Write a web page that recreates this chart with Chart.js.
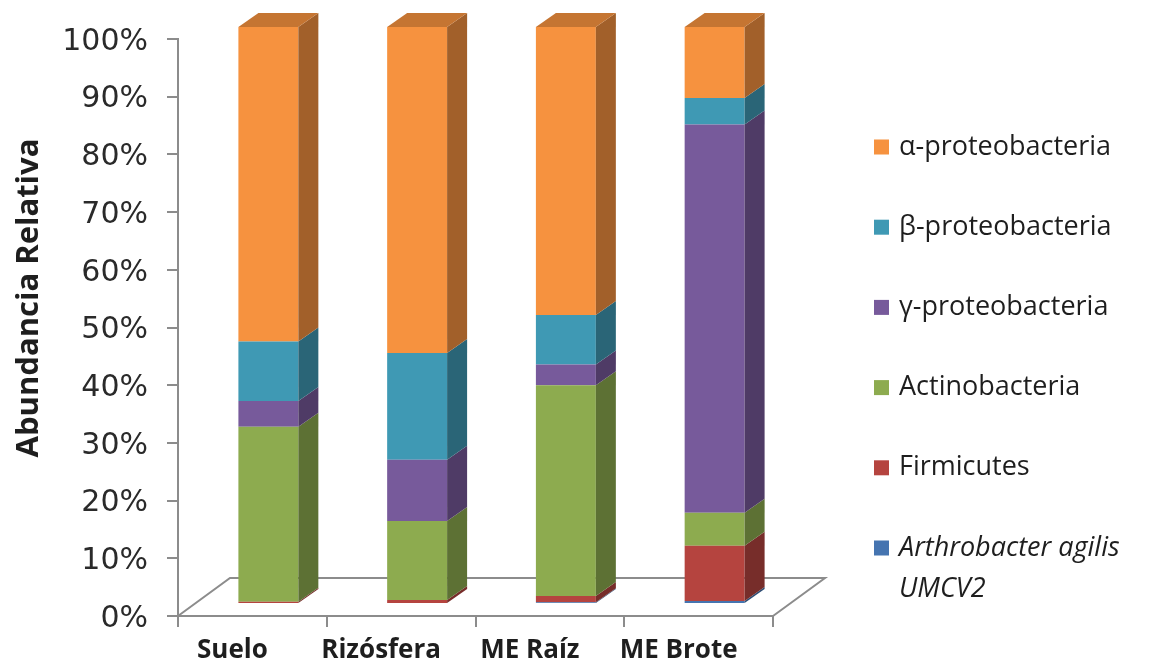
<!DOCTYPE html>
<html>
<head>
<meta charset="utf-8">
<script src="https://cdn.jsdelivr.net/npm/chart.js@4.4.1/dist/chart.umd.min.js"></script>
<style>
  html, body { margin: 0; padding: 0; background: #ffffff; }
  #wrap { width: 1150px; height: 670px; position: relative; }
</style>
</head>
<body>
<div id="wrap"><canvas id="chart"></canvas></div>
<script>
// Sample groups along the x axis
const categories = ['Suelo', 'Rizósfera', 'ME Raíz', 'ME Brote'];

// Relative abundance (%) per group, stacked from the floor upwards
const arthrobacter   = [0.0, 0.0, 0.3, 0.5];
const firmicutes     = [0.4, 0.7, 1.1, 9.6];
const actinobacteria = [30.3, 13.7, 36.5, 5.7];
const gammaProteo    = [4.5, 10.6, 3.6, 67.3];
const betaProteo     = [10.3, 18.5, 8.6, 4.6];
const alphaProteo    = [54.5, 56.5, 49.9, 12.3];

// Series names, in stacking order (bottom first)
const seriesNames = ['Arthrobacter agilis UMCV2', 'Firmicutes', 'Actinobacteria',
                     'γ-proteobacteria', 'β-proteobacteria', 'α-proteobacteria'];

// Value axis ticks (percent)
const yTicks = [0, 10, 20, 30, 40, 50, 60, 70, 80, 90, 100];
const yTitle = 'Abundancia Relativa';

const seriesValues = [arthrobacter, firmicutes, actinobacteria, gammaProteo, betaProteo, alphaProteo];
const seriesColors = ['#4574b0', '#b5443f', '#8dab4f', '#775a9b', '#3f99b4', '#f6923f'];

// Pseudo-3D geometry: floor depth, column depth
const FLOOR_DX = 52, FLOOR_DY = 38;
const BAR_DX = 20, BAR_DY = 14;
const OFF_DX = (FLOOR_DX - BAR_DX) / 2, OFF_DY = (FLOOR_DY - BAR_DY) / 2;
const AXIS_GREY = '#8c8c8c';
const TEXT = '#1e1e1e';

function shade(hex, f) {
  const n = parseInt(hex.slice(1), 16);
  const r = Math.round(((n >> 16) & 255) * f);
  const g = Math.round(((n >> 8) & 255) * f);
  const b = Math.round((n & 255) * f);
  return `rgb(${r},${g},${b})`;
}

// Draws the floor, the side/top faces of the columns and shifts the fronts back into depth
const columns3d = {
  id: 'columns3d',
  beforeDatasetsDraw(chart) {
    const { ctx, chartArea: a } = chart;
    ctx.save();
    ctx.strokeStyle = AXIS_GREY;
    ctx.lineWidth = 2;
    ctx.beginPath();
    ctx.moveTo(a.left, a.bottom);
    ctx.lineTo(a.left + FLOOR_DX, a.bottom - FLOOR_DY);
    ctx.lineTo(a.right + FLOOR_DX, a.bottom - FLOOR_DY);
    ctx.lineTo(a.right, a.bottom);
    ctx.stroke();
    ctx.restore();
    ctx.save();
    ctx.translate(OFF_DX, -OFF_DY);
  },
  afterDatasetsDraw(chart) {
    const { ctx } = chart;
    const n = chart.data.labels.length;
    for (let i = 0; i < n; i++) {
      let topBar = null, topColor = null;
      chart.data.datasets.forEach((ds, di) => {
        const meta = chart.getDatasetMeta(di);
        const bar = meta.data[i];
        if (!bar || ds.data[i] <= 0) return;
        const { x, y, base, width } = bar.getProps(['x', 'y', 'base', 'width'], true);
        const r = x + width / 2;
        ctx.fillStyle = shade(ds.backgroundColor, 0.66);
        ctx.beginPath();
        ctx.moveTo(r, y);
        ctx.lineTo(r + BAR_DX, y - BAR_DY);
        ctx.lineTo(r + BAR_DX, base - BAR_DY);
        ctx.lineTo(r, base);
        ctx.closePath();
        ctx.fill();
        topBar = { x, y, width };
        topColor = ds.backgroundColor;
      });
      if (topBar) {
        const l = topBar.x - topBar.width / 2, r = topBar.x + topBar.width / 2;
        ctx.fillStyle = shade(topColor, 0.8);
        ctx.beginPath();
        ctx.moveTo(l, topBar.y);
        ctx.lineTo(r, topBar.y);
        ctx.lineTo(r + BAR_DX, topBar.y - BAR_DY);
        ctx.lineTo(l + BAR_DX, topBar.y - BAR_DY);
        ctx.closePath();
        ctx.fill();
      }
    }
    ctx.restore();
  }
};

// Rotated value-axis title, centred a little above the plot middle
const axisTitle = {
  id: 'axisTitle',
  afterDraw(chart) {
    const { ctx } = chart;
    ctx.save();
    ctx.translate(29, 298);
    ctx.rotate(-Math.PI / 2);
    ctx.font = 'bold 31px "Open Sans", sans-serif';
    ctx.fillStyle = TEXT;
    ctx.textAlign = 'center';
    ctx.textBaseline = 'middle';
    ctx.fillText(yTitle, 0, 0);
    ctx.restore();
  }
};

// Legend at the right, top entry = last series
const sideLegend = {
  id: 'sideLegend',
  afterDraw(chart) {
    const { ctx } = chart;
    const x0 = 874, box = 15, textX = 899, y0 = 147, step = 80.2;
    ctx.save();
    ctx.textBaseline = 'middle';
    ctx.textAlign = 'left';
    const ds = chart.data.datasets.slice().reverse();
    ds.forEach((d, k) => {
      const cy = y0 + k * step;
      ctx.fillStyle = d.backgroundColor;
      ctx.fillRect(x0, cy - box / 2, box, box);
      ctx.fillStyle = TEXT;
      if (d.label.startsWith('Arthrobacter')) {
        ctx.font = 'italic 27px "Open Sans", sans-serif';
        ctx.fillText('Arthrobacter agilis', textX, cy);
        ctx.fillText('UMCV2', textX, cy + 41);
      } else {
        ctx.font = '27px "Open Sans", sans-serif';
        ctx.fillText(d.label, textX, cy);
      }
    });
    ctx.restore();
  }
};

const datasets = seriesNames.map((name, i) => ({
  label: name,
  data: seriesValues[i],
  backgroundColor: seriesColors[i],
  borderWidth: 0,
  clip: false,
  barPercentage: 0.806,
  categoryPercentage: 0.5
}));

new Chart(document.getElementById('chart'), {
  type: 'bar',
  data: { labels: categories, datasets },
  plugins: [columns3d, axisTitle, sideLegend],
  options: {
    responsive: true,
    maintainAspectRatio: false,
    animation: false,
    layout: { padding: { top: 39, right: 377, left: 0, bottom: 0 } },
    plugins: { legend: { display: false }, tooltip: { enabled: false } },
    scales: {
      x: {
        stacked: true,
        afterFit(scale) { scale.height = 54; },
        grid: { offset: true, drawOnChartArea: false, drawTicks: true, tickLength: 11, color: AXIS_GREY, lineWidth: 2 },
        border: { color: AXIS_GREY, width: 2 },
        ticks: {
          padding: 8,
          labelOffset: -20,
          color: TEXT,
          font: { family: '"Open Sans", sans-serif', weight: 'bold', size: 26 }
        }
      },
      y: {
        stacked: true,
        min: 0,
        max: 100,
        afterFit(scale) { scale.width = 178; },
        afterBuildTicks(scale) { scale.ticks = yTicks.map(v => ({ value: v })); },
        grid: { drawOnChartArea: false, drawTicks: true, tickLength: 11, color: AXIS_GREY, lineWidth: 2 },
        border: { color: AXIS_GREY, width: 2 },
        ticks: {
          padding: 19,
          labelOffset: 3,
          color: '#2a2a2a',
          font: { family: '"DejaVu Sans", sans-serif', size: 30 },
          callback: v => v + '%'
        }
      }
    }
  }
});
</script>
</body>
</html>
